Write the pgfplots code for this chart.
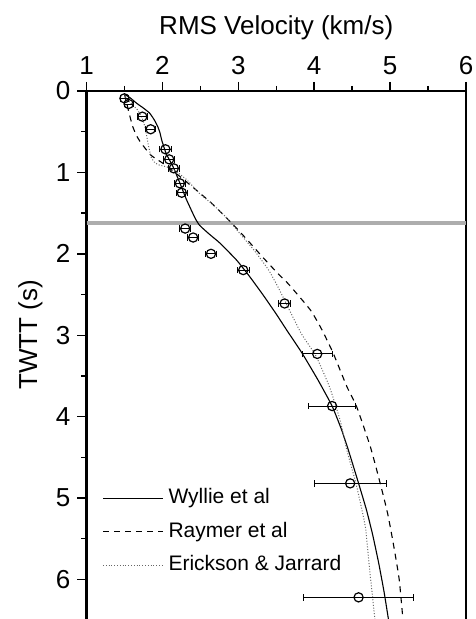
\documentclass[border=0pt]{standalone}
\usepackage{fontspec}
\setmainfont{Liberation Sans}
\usepackage{pgfplots}
\pgfplotsset{compat=1.18}
\usepackage{pgfplotstable}

\pgfplotstableread{
v t e
1.500 0.09 0.05
1.555 0.16 0.06
1.736 0.315 0.07
1.845 0.47 0.07
2.040 0.716 0.075
2.090 0.84 0.07
2.150 0.95 0.075
2.230 1.134 0.07
2.255 1.25 0.07
2.300 1.69 0.07
2.405 1.80 0.07
2.640 2.00 0.07
3.065 2.20 0.08
3.610 2.61 0.08
4.040 3.23 0.20
4.236 3.87 0.31
4.474 4.82 0.475
4.585 6.22 0.72
}\obs

\pgfplotstableread{
v t
1.50 0.04
1.57 0.08
1.66 0.15
1.75 0.21
1.83 0.27
1.89 0.35
1.94 0.44
1.97 0.52
1.99 0.60
2.05 0.77
2.14 0.93
2.23 1.13
2.32 1.34
2.43 1.56
2.49 1.65
2.62 1.76
2.76 1.87
2.98 2.08
3.15 2.28
3.33 2.51
3.50 2.74
3.64 2.94
3.84 3.22
4.05 3.55
4.236 3.87
4.36 4.16
4.45 4.41
4.585 4.82
4.69 5.15
4.77 5.45
4.85 5.80
4.92 6.15
4.98 6.50
}\wyllie

\pgfplotstableread{
v t
1.50 0.04
1.53 0.15
1.55 0.23
1.58 0.34
1.61 0.44
1.66 0.55
1.72 0.64
1.85 0.79
2.01 0.89
2.23 1.05
2.45 1.22
2.65 1.38
2.89 1.60
3.11 1.82
3.33 2.05
3.53 2.25
3.66 2.37
3.95 2.69
4.10 2.93
4.25 3.22
4.43 3.63
4.56 3.88
4.74 4.37
4.87 4.82
4.97 5.20
5.05 5.60
5.12 6.00
5.17 6.50
}\raymer

\pgfplotstableread{
v t
1.50 0.04
1.54 0.11
1.67 0.23
1.73 0.33
1.77 0.44
1.81 0.64
1.85 0.81
1.90 0.88
1.96 0.91
2.05 0.93
2.14 0.96
2.32 1.09
2.49 1.26
2.67 1.40
2.85 1.56
3.02 1.75
3.22 1.97
3.40 2.20
3.53 2.42
3.63 2.61
3.83 2.98
4.02 3.25
4.20 3.63
4.34 4.04
4.43 4.41
4.55 4.82
4.63 5.15
4.68 5.39
4.73 5.88
4.77 6.22
4.80 6.50
}\erickson

\begin{document}
\begin{tikzpicture}
\begin{axis}[
  name=ax,
  at={(0,0)}, anchor=south west,
  scale only axis,
  width=189.75pt, height=264pt,
  xmin=1, xmax=6, ymin=0, ymax=6.486,
  y dir=reverse,
  axis x line=top, axis y line=box,
  axis line style={-, line width=1.4pt, line cap=rect},
  tick align=outside,
  ytick pos=left,
  xtick={1,2,3,4,5,6}, ytick={0,1,2,3,4,5,6},
  minor tick num=1,
  major tick length=4.5pt, minor tick length=2.5pt,
  every tick/.style={black, line width=0.7pt},
  /pgf/number format/assume math mode=true,
  tick label style={font=\fontsize{13}{15}\selectfont},
  label style={font=\fontsize{13}{15}\selectfont},
  xlabel={RMS Velocity (km/s)},
  xlabel style={at={(axis description cs:0.5,1)}, anchor=base, yshift=28pt},
  ylabel={TWTT (s)},
  ylabel style={at={(axis description cs:-0.1304,0.538)}, anchor=base, rotate=0},
  legend style={draw=none, fill=none, at={(axis description cs:0.041,0.165)}, anchor=west,
    inner sep=0pt, row sep=6.25pt, font=\fontsize{10.5}{12}\selectfont,
    nodes={inner xsep=2.5pt, inner ysep=0pt, text height=8pt, text depth=2.5pt}},
  legend cell align=left,
  legend image code/.code={\draw[#1] (0pt,0pt) -- (30pt,0pt);},
]
\addplot[black!32, line width=2pt, forget plot] coordinates {(1,1.62) (6,1.62)};
\addplot[black, line width=0.55pt, smooth, tension=0.3] table[x=v,y=t] {\wyllie};
\addlegendentry{Wyllie et al}
\addplot[black, line width=0.55pt, dash pattern=on 3pt off 2.5pt, smooth, tension=0.3] table[x=v,y=t] {\raymer};
\addlegendentry{Raymer et al}
\addplot[black!60, line width=0.5pt, dash pattern=on 0.5pt off 0.9pt, smooth, tension=0.3] table[x=v,y=t] {\erickson};
\addlegendentry{Erickson \& Jarrard}
\addplot[only marks, mark=o, mark size=2.3pt, black, mark options={line width=0.6pt},
  error bars/.cd, x dir=both, x explicit,
  error bar style={line width=0.5pt, black},
  error mark=|,
  error mark options={mark size=1.6pt, line width=0.5pt, black}]
  table[x=v, y=t, x error=e] {\obs};
\end{axis}
\path (ax.south west) ++(-43.25pt,0pt) coordinate (bl);
\path (ax.north east) ++(4.5pt,45.5pt) coordinate (tr);
\pgfresetboundingbox
\path[use as bounding box] (bl) rectangle (tr);
\end{tikzpicture}
\end{document}
